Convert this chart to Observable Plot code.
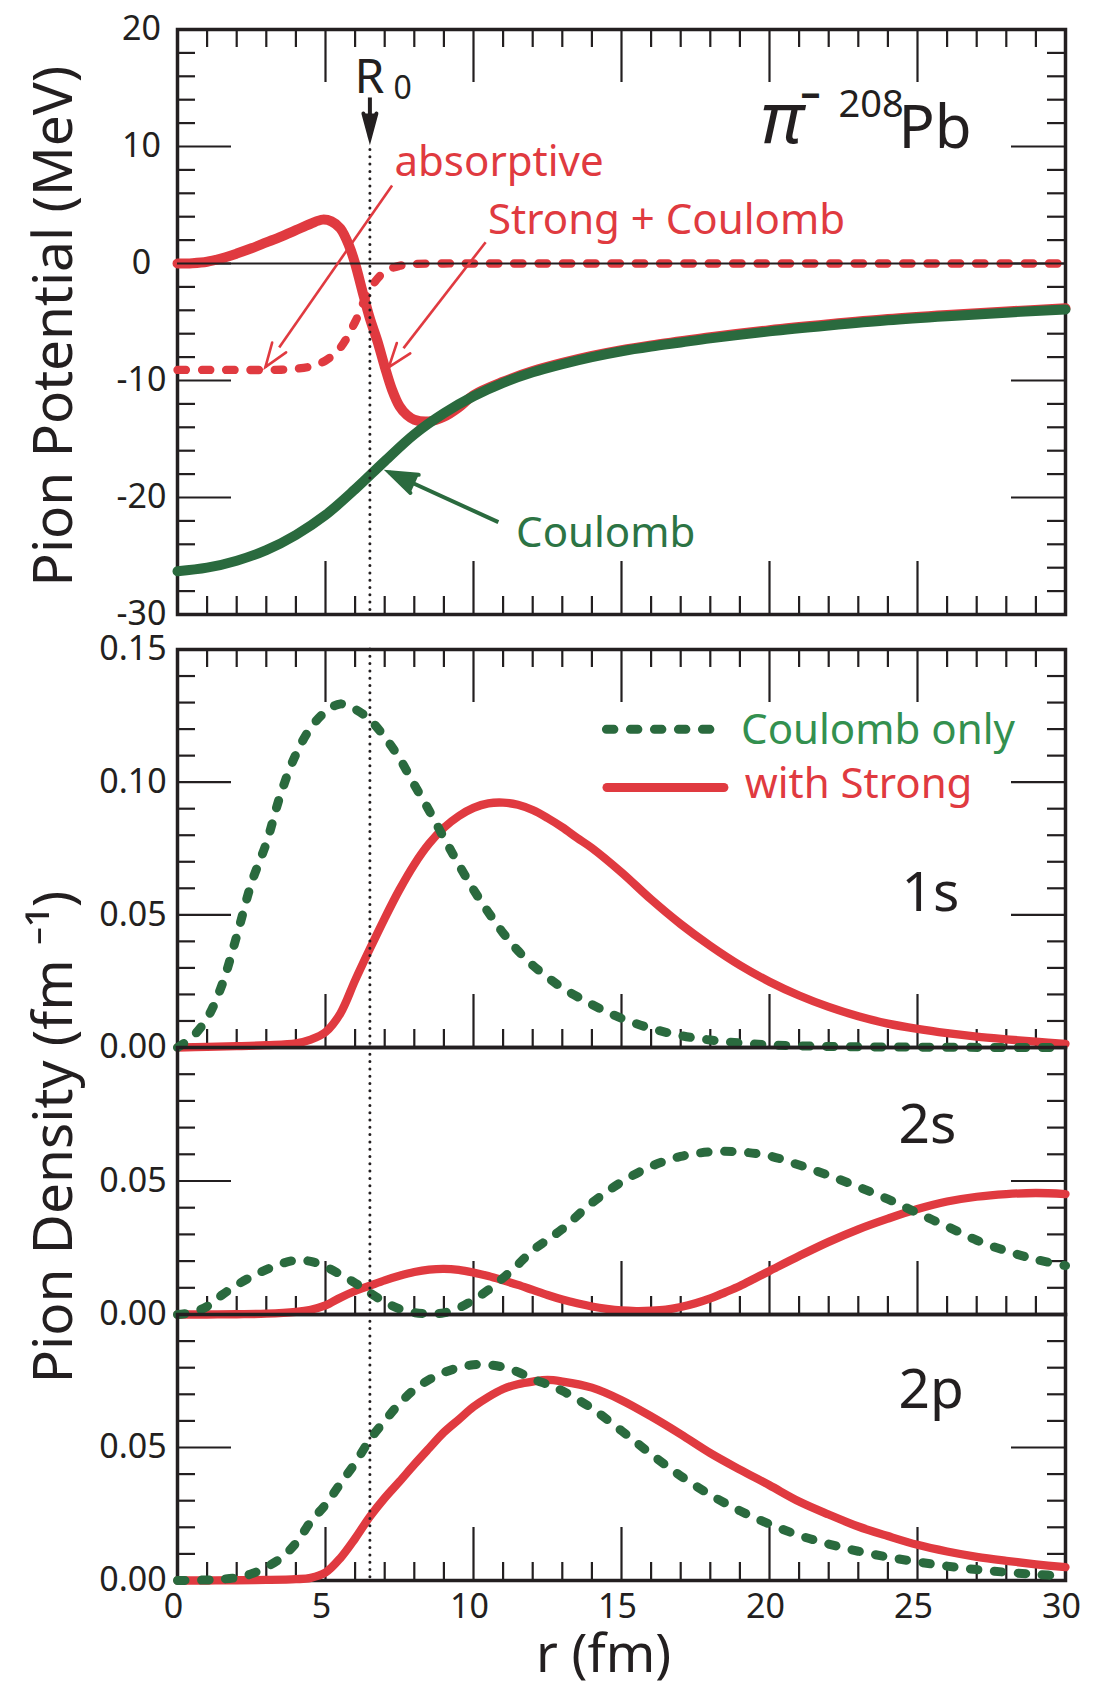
<!DOCTYPE html>
<html><head><meta charset="utf-8">
<script src="https://cdn.jsdelivr.net/npm/d3@7"></script>
<script src="https://cdn.jsdelivr.net/npm/@observablehq/plot@0.6"></script>
<style>
html,body{margin:0;padding:0;background:#fff;}
#chart{position:relative;width:1098px;height:1688px;overflow:hidden;background:#fff;}
#chart svg{position:absolute;left:0;top:0;}
</style></head><body><div id="chart"></div>
<script>
// ---------------- data ----------------
// Top panel: pion potential (MeV) vs r (fm)
const coulR = [0,1,2,3,4,5,6,7,8,9,10,11,12,13,14,15,16,17,18,20,22,24,26,28,30];
const coulV = [-26.3,-26.0,-25.4,-24.5,-23.2,-21.5,-19.3,-16.9,-14.6,-12.8,-11.35,-10.2,-9.3,-8.6,-8.0,-7.5,-7.1,-6.75,-6.4,-5.8,-5.3,-4.85,-4.5,-4.2,-3.93];

const strongR = [0,0.5,1,1.5,2,2.5,3,3.5,4,4.5,4.9,5.2,5.5,5.8,6.0,6.25,6.5,6.75,7.0,7.25,7.5,7.75,8.0,8.5,9.0,9.5,10,11,12,13,14,15,16,17,18,20,22,24,26,28,30];
const strongV = [0,0.03,0.15,0.45,0.85,1.3,1.8,2.3,2.85,3.4,3.75,3.6,3.0,1.5,0.0,-2.4,-4.7,-6.6,-8.8,-10.8,-12.2,-12.95,-13.35,-13.5,-13.1,-12.3,-11.25,-10.1,-9.2,-8.5,-7.9,-7.4,-7.0,-6.65,-6.3,-5.7,-5.2,-4.75,-4.4,-4.1,-3.83];

const absR = [0,1,2,3,3.5,4,4.5,5,5.5,6,6.5,7,7.5,8,9,10,12,15,20,25,30];
const absV = [-9.1,-9.1,-9.1,-9.1,-9.08,-9.0,-8.8,-8.3,-7.2,-5.0,-2.2,-0.7,-0.2,-0.05,0,0,0,0,0,0,0];

// 1s densities (fm^-1)
const c1sR = [0,0.5,1,1.5,2,2.5,3,3.5,4,4.5,5,5.5,6,6.5,7,7.5,8,8.5,9,9.5,10,10.5,11,11.5,12,12.5,13,14,15,16,17,18,19,20,22,24,26,28,30];
const c1sV = [0,0.004,0.011,0.0235,0.042,0.062,0.077,0.096,0.1105,0.1205,0.1265,0.1295,0.1275,0.1235,0.117,0.109,0.099,0.0893,0.079,0.069,0.0595,0.051,0.0432,0.0365,0.031,0.0265,0.0225,0.0162,0.011,0.0072,0.0045,0.0028,0.0017,0.001,0.0004,0.0002,0.0001,0,0];
const s1sR = [0,1,2,3,4,4.5,5,5.5,6,6.5,7,7.5,8,8.5,9,9.5,10,10.5,11,11.5,12,12.5,13,13.5,14,15,16,17,18,19,20,21,22,23,24,25,26,27,28,29,30];
const s1sV = [0,0.0002,0.0005,0.0009,0.0016,0.003,0.0058,0.0128,0.0253,0.0372,0.0487,0.0595,0.069,0.0768,0.0828,0.0872,0.0903,0.092,0.0923,0.0915,0.0895,0.0865,0.083,0.079,0.0752,0.066,0.0558,0.0465,0.0383,0.031,0.0248,0.0196,0.0153,0.0118,0.009,0.007,0.0054,0.0041,0.0031,0.0022,0.0014];

// 2s densities
const c2sR = [0,0.5,1,1.5,2,2.5,3,3.5,4,4.5,5,5.5,6,6.5,7,7.5,8,8.5,9,9.5,10,10.5,11,11.5,12,12.5,13,14,15,16,17,18,19,20,21,22,23,24,25,26,27,28,29,30];
const c2sV = [0,0.0008,0.003,0.0073,0.011,0.0142,0.0168,0.019,0.0203,0.0199,0.0179,0.015,0.0118,0.0081,0.0047,0.0021,0.0007,0.0003,0.0006,0.0024,0.0055,0.0092,0.0137,0.0187,0.024,0.028,0.032,0.0418,0.0496,0.0555,0.0592,0.0609,0.0609,0.0594,0.056,0.0521,0.0478,0.0432,0.038,0.033,0.0278,0.0238,0.0206,0.0183];
const s2sR = [0,1,2,3,4,4.5,5,5.5,6,6.5,7,7.5,8,8.5,9,9.5,10,10.5,11,11.5,12,12.5,13,13.5,14,14.5,15,15.5,16,16.5,17,17.5,18,18.5,19,19.5,20,21,22,23,24,25,26,27,28,29,30];
const s2sV = [0,0,0.0001,0.0003,0.001,0.0018,0.0034,0.0063,0.0088,0.0108,0.0128,0.0145,0.0159,0.0168,0.0171,0.0167,0.0157,0.0144,0.0128,0.0111,0.0092,0.0073,0.0056,0.0042,0.003,0.0021,0.0015,0.0013,0.0014,0.0018,0.0028,0.0042,0.006,0.0083,0.0107,0.0135,0.0163,0.0219,0.0272,0.0319,0.0359,0.0395,0.0423,0.0441,0.0451,0.0455,0.0451];

// 2p densities
const c2pR = [0,1,1.5,2,2.5,3,3.5,4,4.5,5,5.5,6,6.5,7,7.5,8,8.5,9,9.5,10,10.5,11,11.5,12,12.5,13,14,15,16,17,18,19,20,21,22,23,24,25,26,27,28,29,30];
const c2pV = [0,0.0002,0.0005,0.0011,0.0025,0.005,0.0085,0.014,0.0221,0.0285,0.0364,0.0441,0.053,0.06,0.0665,0.0718,0.0755,0.0782,0.08,0.0811,0.0811,0.0802,0.0784,0.0757,0.0737,0.0713,0.0647,0.0563,0.0475,0.0393,0.0322,0.0262,0.0212,0.017,0.0137,0.011,0.0088,0.007,0.0054,0.0041,0.0031,0.0023,0.0017];
const s2pR = [0,1,2,3,4,4.5,5,5.5,6,6.5,7,7.5,8,8.5,9,9.5,10,10.5,11,11.5,12,12.5,13,14,15,16,17,18,19,20,21,22,23,24,25,26,27,28,29,30];
const s2pV = [0,0,0.0001,0.0002,0.0005,0.001,0.003,0.0084,0.0158,0.024,0.031,0.0372,0.0436,0.0497,0.0557,0.0605,0.0653,0.069,0.072,0.0738,0.0748,0.0754,0.0748,0.0725,0.0678,0.0617,0.055,0.0479,0.0417,0.0358,0.0297,0.0248,0.0203,0.0167,0.0134,0.0109,0.0089,0.0074,0.0061,0.005];

const R0 = 6.5;

// tick labels
const xTickLabels = [0,5,10,15,20,25,30];
const potTickLabels = [20,10,0,-10,-20,-30];
const s1TickLabels = [0.15,0.10,0.05,0.00];
const s2TickLabels = [0.05,0.00];
const p2TickLabels = [0.05,0.00];

// ---------------- layout & style ----------------
const W = 1098, H = 1688, FL = 177, FR = 1065;
const P = {
  pot: {top: 29, bottom: 614},
  s1: {top: 649, bottom: 1047},
  s2: {top: 1047, bottom: 1314},
  p2: {top: 1314, bottom: 1580}
};
const INK = "#231f20", RED = "#e03a40", GREEN = "#2a6a3e", GTXT1 = "#2c7444", GTXT2 = "#33904f";
const FONT = "'Noto Sans', 'Open Sans', sans-serif";
const KX = (FR - FL) / 30;

const tbl = (R, V) => R.map((r, i) => ({r, v: V[i]}));
const range = (a, b, s) => d3.range(a, b + s / 2, s).map(v => +v.toFixed(4));
const xMajor = [5,10,15,20,25];
const xMinor = range(1, 29, 1).filter(v => v % 5 !== 0);

function ticks(p, {top, bottom, yMajor, yMinor}) {
  const w = FR - FL, h = p.bottom - p.top;
  const st = {stroke: INK, strokeWidth: 2.2};
  const m = [];
  if (top) {
    m.push(Plot.ruleX(xMajor, {...st, insetBottom: h - 53}));
    m.push(Plot.ruleX(xMinor, {...st, insetBottom: h - 18}));
  }
  if (bottom) {
    m.push(Plot.ruleX(xMajor, {...st, insetTop: h - 53}));
    m.push(Plot.ruleX(xMinor, {...st, insetTop: h - 18}));
  }
  m.push(Plot.ruleY(yMajor, {...st, insetRight: w - 54}));
  m.push(Plot.ruleY(yMajor, {...st, insetLeft: w - 54}));
  m.push(Plot.ruleY(yMinor, {...st, insetRight: w - 18}));
  m.push(Plot.ruleY(yMinor, {...st, insetLeft: w - 18}));
  return m;
}

function yLabels(vals, fmt, cx) {
  return Plot.text(vals, {y: d => d, text: fmt, frameAnchor: "left", dx: cx - FL,
    textAnchor: "middle", lineAnchor: "middle", fontSize: 34, fill: INK, fontFamily: FONT});
}

function arrow(a, ky, {color, width, headLen, headHalf, headFill}) {
  const ang = Math.atan2((a.x2 - a.x1) * KX, (a.y2 - a.y1) * ky) * 180 / Math.PI;
  return [
    Plot.link([a], {x1: "x1", y1: "y1", x2: "x2", y2: "y2", stroke: color, strokeWidth: width}),
    Plot.vector([a], {x: "x2", y: "y2", length: headLen, rotate: ang, anchor: "end", shape: "spike",
      r: headHalf, fill: headFill, stroke: color, strokeWidth: width, strokeLinejoin: "miter"})
  ];
}

function panel(p, yDomain, marks) {
  return Plot.plot({
    width: W, height: H,
    marginLeft: FL, marginRight: W - FR, marginTop: p.top, marginBottom: H - p.bottom,
    x: {domain: [0, 30], axis: null},
    y: {domain: yDomain, axis: null},
    style: {background: "transparent", overflow: "visible", fontFamily: FONT},
    marks
  });
}

const lineCurve = "catmull-rom";
const solid = (R, V, color, w) => Plot.line(tbl(R, V), {x: "r", y: "v", stroke: color, strokeWidth: w,
  strokeLinecap: "round", strokeLinejoin: "round", curve: lineCurve});
const dashed = (R, V, color, w, dash) => Plot.line(tbl(R, V), {x: "r", y: "v", stroke: color, strokeWidth: w,
  strokeDasharray: dash, strokeLinecap: "round", strokeLinejoin: "round", curve: lineCurve});
const dotted = (opts) => Plot.ruleX([R0], {stroke: INK, strokeWidth: 3, strokeDasharray: "0,7.3", strokeLinecap: "round", ...opts});
const txt = (s, x, y, size, color, extra = {}) => Plot.text([s], {x: () => x, y: () => y, text: d => d,
  fontSize: size, fill: color, textAnchor: "start", lineAnchor: "bottom", fontFamily: FONT, ...extra});

const KYpot = (P.pot.bottom - P.pot.top) / 50;
const fmt2 = d => d.toFixed(2);

// ---------------- top panel ----------------
const potPlot = panel(P.pot, [-30, 20], [
  ...ticks(P.pot, {top: true, bottom: true, yMajor: [10,0,-10,-20], yMinor: range(-28, 18, 2).filter(v => v % 10 !== 0)}),
  Plot.frame({stroke: INK, strokeWidth: 3.5}),
  dashed(absR, absV, RED, 8.3, "8.5,15.8"),
  solid(strongR, strongV, RED, 10),
  solid(coulR, coulV, GREEN, 10),
  Plot.ruleY([0], {stroke: INK, strokeWidth: 2}),
  dotted({y1: 9.7, y2: -30}),
  ...arrow({x1: 7.25, y1: 6.67, x2: 2.97, y2: -8.86}, KYpot, {color: RED, width: 2.6, headLen: 24, headHalf: 8.5, headFill: "white"}),
  ...arrow({x1: 10.41, y1: 1.82, x2: 7.14, y2: -8.86}, KYpot, {color: RED, width: 2.6, headLen: 24, headHalf: 8.5, headFill: "white"}),
  ...arrow({x1: 10.84, y1: -22.11, x2: 7.15, y2: -17.84}, KYpot, {color: GREEN, width: 4, headLen: 28, headHalf: 10, headFill: GREEN}),
  ...arrow({x1: R0, y1: 14.19, x2: R0, y2: 10.77}, KYpot, {color: INK, width: 4, headLen: 24, headHalf: 6.5, headFill: INK}),
  txt("absorptive", 7.33, 7.52, 42, RED),
  txt("Strong + Coulomb", 10.49, 2.56, 42, RED),
  txt("Coulomb", 11.44, -24.27, 42, GTXT1),
  txt("R", 5.98, 14.53, 48, INK),
  txt("0", 7.3, 14.02, 32, INK),
  txt("π", 19.7, 10.26, 72, INK, {fontStyle: "italic"}),
  txt("–", 21.05, 13.46, 40, INK, {fontWeight: "bold"}),
  txt("208", 22.33, 12.48, 38, INK),
  txt("Pb", 24.36, 9.91, 60, INK),
  yLabels(potTickLabels, d => String(d), 141),
  Plot.text(["Pion Potential (MeV)"], {frameAnchor: "left", dx: 71 - FL, dy: 4, rotate: -90,
    textAnchor: "middle", lineAnchor: "bottom", fontSize: 55, fill: INK, fontFamily: FONT})
]);

// ---------------- 1s panel ----------------
const s1Plot = panel(P.s1, [0, 0.15], [
  ...ticks(P.s1, {top: true, bottom: true, yMajor: [0.10, 0.05], yMinor: range(0.01, 0.14, 0.01).filter(v => Math.abs(v - 0.05) > 1e-6 && Math.abs(v - 0.10) > 1e-6)}),
  Plot.frame({stroke: INK, strokeWidth: 3.5}),
  solid(s1sR, s1sV, RED, 8.3),
  dashed(c1sR, c1sV, GREEN, 9, "7.5,16.5"),
  dotted({}),
  Plot.line([{r: 14.49, v: 0.1199}, {r: 18.14, v: 0.1199}], {x: "r", y: "v", stroke: GREEN, strokeWidth: 9, strokeDasharray: "7.5,16.5", strokeLinecap: "round"}),
  Plot.line([{r: 14.51, v: 0.098}, {r: 18.46, v: 0.098}], {x: "r", y: "v", stroke: RED, strokeWidth: 9, strokeLinecap: "round"}),
  txt("Coulomb only", 19.04, 0.1142, 42, GTXT2),
  txt("with Strong", 19.16, 0.0942, 42, RED),
  txt("1s", 24.46, 0.0516, 55, INK),
  yLabels(s1TickLabels, fmt2, 132.5)
]);

// ---------------- 2s panel ----------------
const s2Plot = panel(P.s2, [0, 0.1], [
  ...ticks(P.s2, {top: false, bottom: true, yMajor: [0.05], yMinor: [0.01,0.02,0.03,0.04,0.06,0.07,0.08,0.09]}),
  Plot.frame({stroke: INK, strokeWidth: 3.5}),
  solid(s2sR, s2sV, RED, 8.3),
  dashed(c2sR, c2sV, GREEN, 9, "7.5,16.5"),
  dotted({}),
  txt("2s", 24.36, 0.0644, 55, INK),
  yLabels(s2TickLabels, fmt2, 132.5),
  Plot.text(["Pion Density (fm ⁻¹)"], {frameAnchor: "left", dx: 71 - FL, dy: -44, rotate: -90,
    textAnchor: "middle", lineAnchor: "bottom", fontSize: 55, fill: INK, fontFamily: FONT})
]);

// ---------------- 2p panel ----------------
const p2Plot = panel(P.p2, [0, 0.1], [
  ...ticks(P.p2, {top: false, bottom: true, yMajor: [0.05], yMinor: [0.01,0.02,0.03,0.04,0.06,0.07,0.08,0.09]}),
  Plot.frame({stroke: INK, strokeWidth: 3.5}),
  solid(s2pR, s2pV, RED, 8.3),
  dashed(c2pR, c2pV, GREEN, 9, "7.5,16.5"),
  dotted({}),
  txt("2p", 24.36, 0.0647, 55, INK),
  yLabels(p2TickLabels, fmt2, 132.5),
  Plot.text(xTickLabels, {x: d => d, text: d => String(d), frameAnchor: "bottom", dy: 37, dx: -4,
    textAnchor: "middle", lineAnchor: "bottom", fontSize: 34, fill: INK, fontFamily: FONT}),
  Plot.text(["r (fm)"], {frameAnchor: "bottom", dy: 91, dx: -18, textAnchor: "middle", lineAnchor: "bottom",
    fontSize: 53, fill: INK, fontFamily: FONT})
]);

const chart = document.getElementById("chart");
[potPlot, s1Plot, s2Plot, p2Plot].forEach(p => chart.appendChild(p));
</script>
</body></html>
